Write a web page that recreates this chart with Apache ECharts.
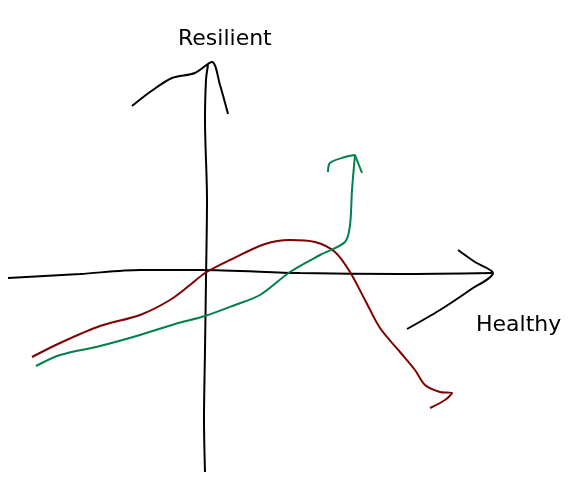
<!DOCTYPE html>
<html>
<head>
<meta charset="utf-8">
<script src="https://cdn.jsdelivr.net/npm/echarts@6/dist/echarts.min.js"></script>
<style>html,body{margin:0;background:#fff}#main{width:583px;height:499px}</style>
</head>
<body>
<div id="main"></div>
<script>
// hand-drawn sketch, coordinates in picture space (y grows downward)
var vAxisLine = [[205,472],[204,420],[205,350],[206,280],[207,200],[205,120],[206,80],[208,65]];
var vArrow = [[132,106],[150,92],[172,78],[195,73],[212,62],[220,85],[228,114]];
var hAxisLine = [[8,278],[80,274],[140,270],[200,270],[300,273],[400,274],[493,273]];
var hArrow = [[458,250],[475,262],[493,273],[470,290],[440,310],[407,329]];
var redLine = [[32,357],[60,343],[100,326],[140,315],[170,300],[190,285],[205,273],[230,260],[265,244],[290,240],[315,242],[335,252],[350,272],[365,300],[380,328],[400,352],[415,370],[425,385],[440,392],[452,393],[445,400],[430,408]];
var greenLine = [[36,366],[60,355],[100,346],[140,335],[175,324],[205,316],[235,305],[260,295],[290,272],[320,255],[345,242],[350,225],[352,190],[355,155],[345,157],[330,163],[328,172]];
var greenTip = [[355,155],[362,173]];

var myChart = echarts.init(document.getElementById('main'));

function stroke(data, color, w) {
    return {type: 'line', data: data, symbol: 'none', smooth: 0.3, animation: false,
        lineStyle: {color: color, width: w}};
}

myChart.setOption({
    grid: {left: 0, right: 0, top: 0, bottom: 0},
    xAxis: {type: 'value', min: 0, max: 583, show: false},
    yAxis: {type: 'value', min: 0, max: 499, inverse: true, show: false},
    graphic: [
        {type: 'text', left: 178, top: 28, style: {text: 'Resilient', font: '22px "DejaVu Sans"', fill: '#000'}},
        {type: 'text', left: 476, top: 314, style: {text: 'Healthy', font: '22px "DejaVu Sans"', fill: '#000'}}
    ],
    series: [
        stroke(vAxisLine, '#000', 2),
        stroke(vArrow, '#000', 2),
        stroke(hAxisLine, '#000', 2),
        stroke(hArrow, '#000', 2),
        stroke(redLine, '#800000', 2),
        stroke(greenLine, '#00804a', 2),
        stroke(greenTip, '#00804a', 2)
    ]
});
</script>
</body>
</html>
